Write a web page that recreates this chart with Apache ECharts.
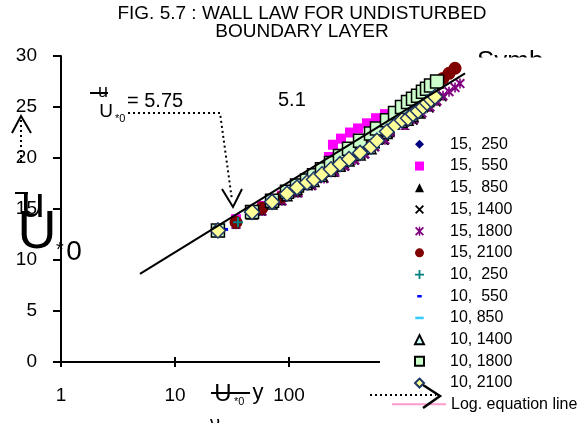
<!DOCTYPE html>
<html>
<head>
<meta charset="utf-8">
<script src="https://cdn.jsdelivr.net/npm/echarts@6/dist/echarts.min.js"></script>
<style>
html, body { margin: 0; padding: 0; background: #fff; }
#chart { width: 587px; height: 423px; }
</style>
</head>
<body>
<div id="chart"></div>
<script>
const FONT = '"Liberation Sans", Arial, Helvetica, sans-serif';

// Series names (free-stream velocity, station)
const names = ['15,  250', '15,  550', '15,  850', '15, 1400', '15, 1800', '15, 2100',
               '10,  250', '10,  550', '10, 850', '10, 1400', '10, 1800', '10, 2100'];
const lineName = 'Log. equation line';

// U*0·y/ν values and u/U*0 values for each traverse
const x15_250  = [34.3, 58, 86.9, 120, 159, 203, 253, 310, 379, 464, 568, 695, 851];
const u15_250  = [13.6, 14.9, 16.0, 16.9, 17.7, 18.5, 19.2, 19.9, 20.6, 21.3, 22.0, 22.8, 23.6];

const x15_550  = [34.3, 58, 86.9, 120, 159, 203, 224, 243, 286, 343, 403, 483, 580, 695, 851, 1020, 1224, 1468];
const u15_550  = [14.0, 15.3, 16.3, 17.2, 17.9, 18.7, 20.1, 21.3, 21.9, 22.5, 22.9, 23.4, 23.9, 24.3, 24.6, 25.2, 25.7, 26.2];

const x15_850  = [34.3, 58, 86.9, 120, 159, 203, 253, 310, 379, 464, 568, 695, 851, 1042, 1248, 1468, 1726];
const u15_850  = [13.5, 14.8, 15.8, 16.6, 17.4, 18.1, 18.8, 19.4, 20.1, 20.7, 21.4, 22.1, 22.8, 23.5, 24.2, 24.8, 25.4];

const x15_1400 = [34.3, 58, 86.9, 120, 159, 203, 253, 310, 379, 464, 568, 695, 851, 1042, 1248, 1468, 1726, 1987, 2243];
const u15_1400 = [13.4, 14.7, 15.7, 16.5, 17.2, 17.9, 18.5, 19.1, 19.7, 20.3, 21.0, 21.6, 22.3, 23.0, 23.6, 24.2, 24.8, 25.4, 25.9];

const x15_1800 = [34.3, 58, 86.9, 120, 159, 203, 253, 310, 379, 464, 568, 695, 851, 1042, 1248, 1468, 1726, 1987, 2243, 2533, 2860, 3162];
const u15_1800 = [13.5, 14.8, 15.8, 16.6, 17.3, 18.0, 18.6, 19.2, 19.8, 20.4, 21.1, 21.8, 22.5, 23.1, 23.8, 24.4, 25.0, 25.6, 26.1, 26.5, 26.9, 27.3];

const x15_2100 = [34.3, 58, 86.9, 120, 159, 203, 253, 310, 379, 464, 568, 695, 851, 1042, 1248, 1468, 1726, 1987, 2243, 2533, 2860];
const u15_2100 = [13.7, 15.1, 16.2, 17.1, 17.8, 18.6, 19.3, 20.0, 20.7, 21.4, 22.1, 22.8, 23.6, 24.4, 25.1, 25.8, 26.5, 27.2, 27.8, 28.3, 28.8];

const x10_250  = [23.8, 35.7, 47.4, 71, 96, 117.5, 143.9, 165.7, 194.7, 233.5, 280, 336, 420, 524];
const u10_250  = [12.9, 13.7, 14.6, 15.6, 16.4, 17.0, 17.5, 17.9, 18.4, 18.9, 19.4, 19.9, 20.5, 21.1];

const x10_550  = [27.5, 49, 73, 98, 120, 147, 169, 199, 238, 286, 343, 428, 535, 603, 739];
const u10_550  = [13.0, 14.6, 15.6, 16.4, 17.0, 17.5, 17.9, 18.4, 18.9, 19.4, 19.9, 20.4, 21.0, 21.6, 22.4];

const x10_850  = [25, 48, 72, 97, 119, 146, 168, 197, 236, 284, 340, 425, 530, 598, 732, 860];
const u10_850  = [12.9, 14.6, 15.6, 16.4, 17.0, 17.5, 17.9, 18.4, 18.9, 19.4, 19.9, 20.4, 21.0, 21.6, 22.5, 23.1];

const x10_1400 = [23.8, 47.4, 71, 96, 117.5, 143.9, 165.7, 194.7, 233.5, 280, 336, 420, 524, 591, 724, 851, 980, 1107, 1224, 1355];
const u10_1400 = [12.8, 14.5, 15.5, 16.3, 16.9, 17.4, 17.7, 18.2, 18.7, 19.2, 19.7, 20.3, 20.9, 21.5, 22.4, 23.0, 23.5, 23.7, 24.1, 24.4];

const x10_1800 = [23.8, 47.4, 71, 96, 117.5, 143.9, 165.7, 194.7, 233.5, 280, 336, 420, 524, 591, 724, 851, 980, 1107, 1224, 1355, 1497, 1625, 1762, 1990];
const u10_1800 = [12.9, 14.7, 15.8, 16.7, 17.3, 17.8, 18.3, 18.9, 19.5, 20.2, 20.9, 21.7, 22.4, 22.9, 23.7, 24.4, 25.0, 25.5, 25.8, 26.1, 26.5, 26.8, 27.1, 27.5];

const x10_2100 = [23.8, 47.4, 71, 96, 117.5, 143.9, 165.7, 194.7, 233.5, 280, 336, 420, 524, 591, 724, 851, 980, 1107, 1224, 1355, 1497, 1625, 1762, 1909];
const u10_2100 = [12.9, 14.7, 15.7, 16.5, 17.1, 17.6, 17.9, 18.4, 18.9, 19.4, 19.9, 20.5, 21.1, 21.7, 22.6, 23.2, 23.7, 23.9, 24.3, 24.6, 25.0, 25.4, 25.7, 26.0];

// End points of the logarithmic wall-law line
const lineX = [4.93, 3500];
const lineU = [8.63, 28.3];

const xValues = [x15_250, x15_550, x15_850, x15_1400, x15_1800, x15_2100,
                 x10_250, x10_550, x10_850, x10_1400, x10_1800, x10_2100];
const uValues = [u15_250, u15_550, u15_850, u15_1400, u15_1800, u15_2100,
                 u10_250, u10_550, u10_850, u10_1400, u10_1800, u10_2100];

// Marker shapes
const P_X    = 'path://M0,1.4 L1.4,0 L5,3.6 L8.6,0 L10,1.4 L6.4,5 L10,8.6 L8.6,10 L5,6.4 L1.4,10 L0,8.6 L3.6,5 Z';
const P_STAR = 'path://M0,1.4 L1.4,0 L5,3.6 L8.6,0 L10,1.4 L6.4,5 L10,8.6 L8.6,10 L5,6.4 L1.4,10 L0,8.6 L3.6,5 Z M4.2,0 H5.8 V10 H4.2 Z';
const P_PLUS = 'path://M4,0 H6 V4 H10 V6 H6 V10 H4 V6 H0 V4 H4 Z';
const P_DASH_S = 'path://M0,0 M10,10 M2.5,3.6 H7.5 V6.4 H2.5 Z';
const P_DASH_L = 'path://M0,0 M10,10 M0.3,3.6 H9.7 V6.4 H0.3 Z';
const P_LINE = 'path://M0,0 M54,8 M0,3 H54 V5 H0 Z';

const markers = [
  { symbol: 'diamond',  size: 10,     icon: 'diamond',  style: { color: '#000080' } },
  { symbol: 'rect',     size: 10,     icon: 'rect',     style: { color: '#FF00FF' } },
  { symbol: 'triangle', size: 9,      icon: 'triangle', style: { color: '#000000' } },
  { symbol: P_X,        size: 8,      icon: P_X,        style: { color: '#000000' } },
  { symbol: P_STAR,     size: 10,     icon: P_STAR,     style: { color: '#800080' } },
  { symbol: 'circle',   size: 13,     icon: 'circle',   style: { color: '#800000' } },
  { symbol: P_PLUS,     size: 10,     icon: P_PLUS,     style: { color: '#008080' } },
  { symbol: 'rect',     size: [6, 3], icon: P_DASH_S,   style: { color: '#0000FF' } },
  { symbol: 'rect',     size: [9, 3], icon: P_DASH_L,   style: { color: '#33CCFF' } },
  { symbol: 'triangle', size: 10,     icon: 'triangle', style: { color: '#CCFFFF', borderColor: '#000000', borderWidth: 1.5 } },
  { symbol: 'rect',     size: 13,     icon: 'rect',     style: { color: '#CCFFCC', borderColor: '#000000', borderWidth: 1.5 } },
  { symbol: 'diamond',  size: 15,     icon: 'diamond',  style: { color: '#FFFF99', borderColor: '#1F3864', borderWidth: 1.5 } }
];

const scatterSeries = names.map((name, i) => ({
  name: name,
  type: 'scatter',
  symbol: markers[i].symbol,
  symbolSize: markers[i].size,
  itemStyle: Object.assign({ opacity: 1 }, markers[i].style),
  data: xValues[i].map((x, k) => [x, uValues[i][k]]),
  clip: true,
  silent: true
}));

const lineSeries = {
  name: lineName,
  type: 'line',
  symbol: 'none',
  lineStyle: { color: '#000000', width: 2 },
  data: lineX.map((x, k) => [x, lineU[k]]),
  silent: true,
  animation: false
};

const txt = (text, x, y, size, align, extra) => ({
  type: 'text', z: 10,
  style: Object.assign({
    text: text, x: x, y: y,
    font: size + 'px ' + FONT,
    fill: '#000',
    align: align || 'left', textAlign: align || 'left',
    verticalAlign: 'middle', textVerticalAlign: 'middle'
  }, extra || {})
});

const dotted = (points) => ({
  type: 'polyline', z: 10,
  shape: { points: points },
  style: { stroke: '#000', lineWidth: 2, lineDash: [2, 3], fill: null }
});

const solid = (points, w) => ({
  type: 'polyline', z: 10,
  shape: { points: points },
  style: { stroke: '#000', lineWidth: w || 2, fill: null }
});

const chart = echarts.init(document.getElementById('chart'), null, { renderer: 'canvas' });

chart.setOption({
  animation: false,
  backgroundColor: '#ffffff',
  textStyle: { fontFamily: FONT },
  title: {
    text: 'FIG. 5.7 : WALL LAW FOR UNDISTURBED\nBOUNDARY LAYER',
    left: 302, top: 5, textAlign: 'center', padding: 0,
    textStyle: { fontFamily: FONT, fontSize: 19, fontWeight: 'normal', color: '#000', lineHeight: 18 }
  },
  grid: { left: 61, top: 56, width: 456, height: 306, containLabel: false },
  xAxis: [{
    type: 'log', logBase: 10, min: 1, max: 10000,
    axisLine: { lineStyle: { color: '#000', width: 2 } },
    axisTick: { inside: false, length: 5, lineStyle: { color: '#000', width: 2 } },
    minorTick: { show: false },
    splitLine: { show: false },
    axisLabel: { color: '#000', fontSize: 19, fontFamily: FONT, margin: 24 }
  }, {
    type: 'log', logBase: 10, min: 1, max: 10000, position: 'bottom', gridIndex: 0,
    axisLine: { show: false },
    axisTick: { inside: true, length: 5, lineStyle: { color: '#000', width: 2 } },
    axisLabel: { show: false },
    splitLine: { show: false }
  }],
  yAxis: {
    type: 'value', min: 0, max: 30, interval: 5,
    axisLine: { show: true, lineStyle: { color: '#000', width: 2 } },
    axisTick: { show: true, inside: false, length: 8, lineStyle: { color: '#000', width: 2 } },
    splitLine: { show: false },
    axisLabel: { color: '#000', fontSize: 19, fontFamily: FONT, margin: 24 }
  },
  legend: [{
    data: names.map((n, i) => ({ name: n, icon: markers[i].icon })),
    orient: 'vertical', left: 414, top: 133.5, padding: 0,
    itemWidth: 9, itemHeight: 9, itemGap: 0,
    selectedMode: false, z: 6,
    textStyle: { color: '#000', fontFamily: FONT, fontSize: 16, lineHeight: 21.7, padding: [0, 0, 0, 21] }
  }, {
    data: [{ name: lineName, icon: P_LINE, itemStyle: { color: '#FF99CC', borderWidth: 0 } }],
    orient: 'vertical', left: 392, top: 393.5, padding: 0,
    itemWidth: 54, itemHeight: 8, itemGap: 0,
    selectedMode: false, z: 6,
    textStyle: { color: '#000', fontFamily: FONT, fontSize: 16, lineHeight: 21.7 }
  }],
  graphic: [
    // panel behind the key
    { type: 'polygon', z: 5, silent: true,
      shape: { points: [[380, 423], [380, 145], [395, 145], [395, 130], [470, 130], [470, 57.5], [587, 57.5], [587, 423]] },
      style: { fill: '#ffffff' } },
    Object.assign(txt('Symb', 477, 62, 26), { z: 4 }),

    // y-axis title  ū / U*0
    solid([[15, 193], [28, 193]], 2),
    txt('u', 33, 205, 42, 'center'),
    txt('U', 37, 233, 54, 'center'),
    txt('*', 60, 250, 20, 'center'),
    txt('0', 74, 252, 28, 'center'),
    // vertical arrow beside the y-axis
    dotted([[21, 120], [21, 165]]),
    solid([[12, 133], [21, 116], [31, 133]], 2),

    // equation annotation  ū/U*0 = 5.75 log(U*0 y/ν) + 5.1
    solid([[90, 93], [108, 93]], 2),
    txt('u', 103, 92, 18, 'center'),
    txt('U', 106, 112, 19, 'center'),
    txt('*0', 115, 119, 11, 'left'),
    txt('= 5.75', 127, 101, 20, 'left'),
    txt('5.1', 278, 100, 20, 'left'),
    dotted([[128, 113], [220, 113], [232, 200]]),
    solid([[222, 189], [233, 207], [242, 189]], 2),

    // x-axis title  U*0 y / ν
    txt('U', 223, 394, 24, 'center'),
    txt('*0', 234, 402, 11, 'left'),
    solid([[211, 393], [250, 393]], 2),
    txt('y', 258, 393, 22, 'center'),
    txt('\u03bd', 215, 424, 20, 'center'),

    // arrow pointing to the key entry
    dotted([[370, 395], [436, 395]]),
    solid([[423, 385], [440, 396], [423, 408]], 2.5)
  ],
  series: scatterSeries.concat([lineSeries])
});
</script>
</body>
</html>
